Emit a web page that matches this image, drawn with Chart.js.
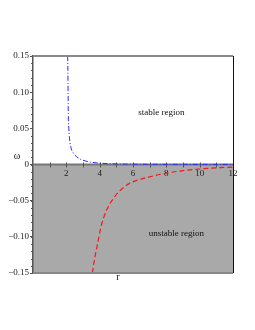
<!DOCTYPE HTML>
<html>

<head>
  <meta charset="utf-8" />
  <script src="https://cdn.jsdelivr.net/npm/chart.js@4.4.1/dist/chart.umd.min.js"></script>
  <style>
    body {
      margin: 0;
      background: #fff;
    }

    #wrap {
      position: relative;
      width: 255px;
      height: 330px;
    }
  </style>
</head>

<body>
  <div id="wrap"><canvas id="chart-omega"></canvas></div>
</body>
<script>
  // stable branch (blue, dash-dot)
  var rBlue = [2.08, 2.10, 2.12, 2.15, 2.18, 2.26, 2.42, 2.72, 3.12, 3.72, 4.5, 5.5, 7, 9, 12];
  var wBlue = [0.15, 0.113, 0.066, 0.05, 0.039, 0.025, 0.016, 0.009, 0.005, 0.0025, 0.0012, 0.0006, 0.0003, 0.0002, 0.0001];

  // unstable branch (red, dashed)
  var rRed = [3.56, 3.7, 3.88, 4.08, 4.42, 4.92, 5.52, 6.0, 7.0, 8.0, 9.0, 10.0, 11.0, 12.0];
  var wRed = [-0.15, -0.13, -0.109, -0.086, -0.063, -0.044, -0.030, -0.024, -0.017, -0.012, -0.0085, -0.0062, -0.0046, -0.0035];

  // axis labels
  var xTickLabels = [2, 4, 6, 8, 10, 12];
  var regionLabels = ['stable region', 'unstable region'];

  var serif = '"Liberation Serif", "DejaVu Serif", serif';

  function toPoints(xs, ys) {
    return xs.map(function (x, i) { return { x: x, y: ys[i] }; });
  }

  var decor = {
    id: 'decor',
    beforeDraw: function (chart) {
      var c = chart.ctx, a = chart.chartArea, y = chart.scales.y;
      c.save();
      c.fillStyle = '#fff';
      c.fillRect(0, 0, chart.width, chart.height);
      var y0 = y.getPixelForValue(0);
      c.fillStyle = '#a9a9a9';
      c.fillRect(a.left, y0, a.right - a.left, a.bottom - y0);
      c.restore();
    },
    beforeDatasetsDraw: function (chart) {
      var c = chart.ctx, a = chart.chartArea, x = chart.scales.x, y = chart.scales.y;
      var y0 = y.getPixelForValue(0);
      c.save();
      // zero line
      c.strokeStyle = '#777';
      c.lineWidth = 2;
      c.beginPath();
      c.moveTo(a.left, y0);
      c.lineTo(a.right, y0);
      c.stroke();
      // minor ticks on r axis
      c.strokeStyle = '#555';
      c.lineWidth = 1;
      for (var i = 1; i < 12; i++) {
        var px = Math.round(x.getPixelForValue(i)) + 0.5;
        c.beginPath();
        c.moveTo(px, y0 - 2);
        c.lineTo(px, y0 + 3);
        c.stroke();
      }
      // minor ticks on omega axis
      for (var k = -15; k <= 15; k++) {
        var py = Math.round(y.getPixelForValue(k / 100)) + 0.5;
        c.beginPath();
        c.moveTo(a.left - 2, py);
        c.lineTo(a.left, py);
        c.stroke();
      }
      // r tick labels
      c.fillStyle = '#222';
      c.font = '9px ' + serif;
      c.textAlign = 'center';
      c.textBaseline = 'middle';
      xTickLabels.forEach(function (v) {
        c.fillText(String(v), x.getPixelForValue(v), y0 + 9);
      });
      c.restore();
    },
    afterDraw: function (chart) {
      var c = chart.ctx, a = chart.chartArea, x = chart.scales.x, y = chart.scales.y;
      c.save();
      // frame
      c.lineWidth = 2;
      c.strokeStyle = '#888';
      c.beginPath();
      c.moveTo(a.left, a.top);
      c.lineTo(a.right, a.top);
      c.moveTo(a.left, a.bottom);
      c.lineTo(a.right, a.bottom);
      c.stroke();
      c.lineWidth = 1;
      c.strokeStyle = '#111';
      c.beginPath();
      c.moveTo(a.right + 0.5, a.top);
      c.lineTo(a.right + 0.5, a.bottom);
      c.stroke();
      // text
      c.fillStyle = '#111';
      c.font = '9px ' + serif;
      c.textAlign = 'center';
      c.textBaseline = 'middle';
      c.fillText(regionLabels[0], x.getPixelForValue(7.7), y.getPixelForValue(0.072));
      c.fillText(regionLabels[1], x.getPixelForValue(8.6), y.getPixelForValue(-0.095));
      c.font = '10px ' + serif;
      c.fillText('\u03C9', 17, 156);
      c.fillText('r', 118, 277);
      c.restore();
    }
  };

  var ctx = document.getElementById('chart-omega');
  var chart = new Chart(ctx, {
    type: 'scatter',
    data: {
      datasets: [{
        data: toPoints(rBlue, wBlue),
        showLine: true,
        borderColor: '#2a2aff',
        borderWidth: 1,
        borderDash: [5, 2, 1, 2],
        pointRadius: 0,
        cubicInterpolationMode: 'monotone'
      }, {
        data: toPoints(rRed, wRed),
        showLine: true,
        borderColor: '#ee1c1c',
        borderWidth: 1.2,
        borderDash: [5, 3],
        pointRadius: 0,
        cubicInterpolationMode: 'monotone'
      }]
    },
    options: {
      responsive: true,
      maintainAspectRatio: false,
      animation: false,
      layout: {
        padding: { left: 0, top: 56, right: 22, bottom: 57 }
      },
      scales: {
        x: {
          type: 'linear',
          display: false,
          min: 0,
          max: 12
        },
        y: {
          min: -0.15,
          max: 0.15,
          afterFit: function (scale) { scale.width = 33; },
          border: { display: true, color: '#555', width: 1.5 },
          grid: { drawOnChartArea: false, tickLength: 3, color: '#555' },
          ticks: {
            stepSize: 0.05,
            padding: 1,
            color: '#222',
            font: { family: serif, size: 9 },
            callback: function (v) {
              if (Math.abs(v) < 1e-9) return '0';
              return (v < 0 ? '\u2212' : '') + Math.abs(v).toFixed(2);
            }
          }
        }
      },
      plugins: {
        legend: { display: false },
        tooltip: { enabled: false }
      }
    },
    plugins: [decor]
  });
</script>

</html>
